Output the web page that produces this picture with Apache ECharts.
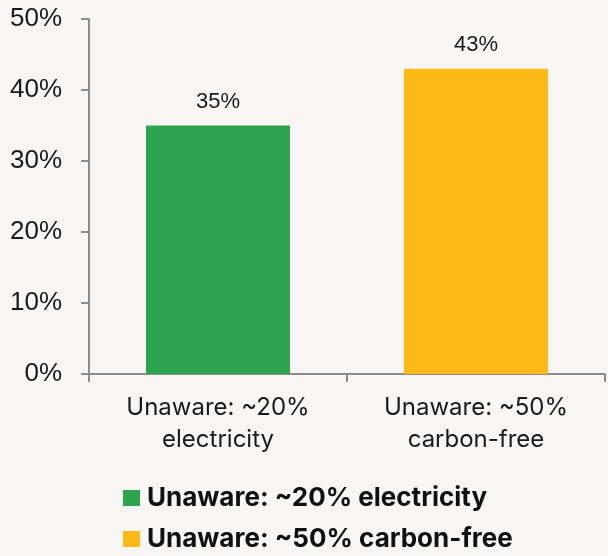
<!DOCTYPE html>
<html>
<head>
<meta charset="utf-8">
<script src="https://cdn.jsdelivr.net/npm/echarts@6/dist/echarts.min.js"></script>
<style>
  html, body { margin: 0; padding: 0; background: #f7f6f5; }
  #chart { width: 608px; height: 556px; }
</style>
</head>
<body>
<div id="chart"></div>
<script>
// Share of respondents unaware of each fact (percent)
const categories = ['Unaware: ~20%\nelectricity', 'Unaware: ~50%\ncarbon-free'];
const seriesNames = ['Unaware: ~20% electricity', 'Unaware: ~50% carbon-free'];
const values = [35, 43];
const colors = ['#2ea44f', '#fdb917'];
const yTicks = [0, 10, 20, 30, 40, 50];

const chart = echarts.init(document.getElementById('chart'), null, { renderer: 'canvas' });

// one series per category so each gets its own legend entry; stacking keeps them in a single slot
const series = seriesNames.map((name, i) => ({
  name: name,
  type: 'bar',
  stack: 'one',
  barWidth: 144,
  itemStyle: { color: colors[i] },
  data: values.map((v, j) => (j === i ? v : '-')),
  label: {
    show: true,
    position: 'top',
    distance: 13,
    formatter: p => p.value + '%',
    fontFamily: 'Liberation Sans',
    fontSize: 22,
    color: '#1a1a1a'
  }
}));

// legend entries stacked one under the other
const legendTops = [480, 521];
const legends = seriesNames.map((name, i) => ({
  left: 118,
  top: legendTops[i],
  itemWidth: 17,
  itemHeight: 16,
  icon: 'rect',
  data: [name],
  textStyle: {
    fontFamily: 'Inter',
    fontWeight: 'bold',
    fontSize: 26,
    lineHeight: 26,
    color: '#111111',
    padding: [0, 0, 0, 2]
  }
}));

chart.setOption({
  backgroundColor: '#f7f6f5',
  animation: false,
  grid: { left: 89, right: 3, top: 19, bottom: 182 },
  legend: legends,
  xAxis: {
    type: 'category',
    data: categories,
    boundaryGap: true,
    axisLine: { lineStyle: { color: '#8c8c8c', width: 2 } },
    axisTick: { show: true, length: 8, lineStyle: { color: '#8c8c8c', width: 2 } },
    axisLabel: {
      margin: 18,
      fontFamily: 'Inter',
      fontSize: 24,
      lineHeight: 32,
      color: '#1a1a1a'
    }
  },
  yAxis: {
    type: 'value',
    min: yTicks[0],
    max: yTicks[yTicks.length - 1],
    interval: yTicks[1] - yTicks[0],
    splitLine: { show: false },
    axisLine: { show: true, lineStyle: { color: '#8c8c8c', width: 2 } },
    axisTick: { show: true, inside: false, length: 8, lineStyle: { color: '#8c8c8c', width: 2 } },
    axisLabel: {
      margin: 27,
      formatter: v => v + '%',
      fontFamily: 'Liberation Sans',
      fontSize: 26,
      color: '#1a1a1a'
    }
  },
  series: series
});
</script>
</body>
</html>
